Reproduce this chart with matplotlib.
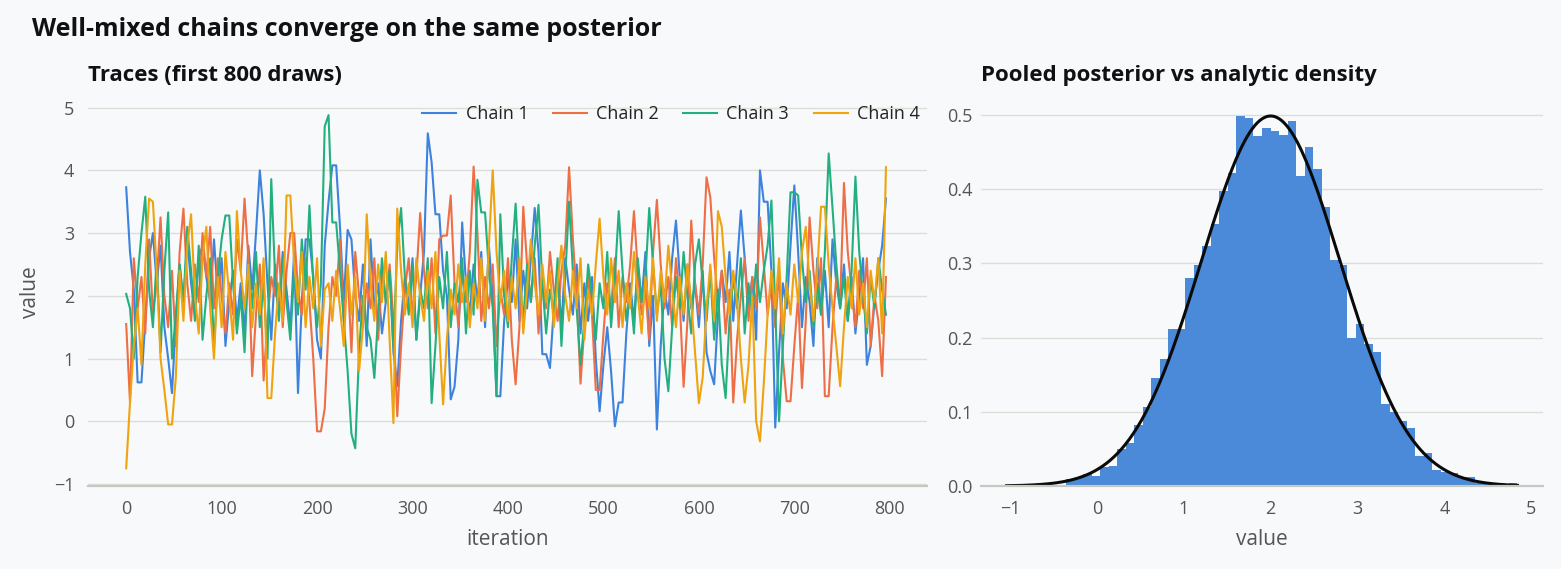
import numpy as np
import matplotlib
matplotlib.use("Agg")
import matplotlib.pyplot as plt

# ---------------- data ----------------
TRACE_STEP = 4  # iterations per stored value
chain1 = [3.73, 2.7, 2.1, 0.62, 0.62, 1.6, 2.6, 3.0, 2.2, 2.8,
          1.5, 1.0, 0.45, 1.6, 2.5, 1.9, 2.9, 2.2, 1.7, 2.6,
          2.8, 2.3, 1.9, 2.9, 2.0, 2.6, 1.2, 1.9, 2.4, 1.6,
          2.2, 1.4, 2.8, 2.1, 3.0, 4.0, 3.3, 2.2, 1.3, 2.5,
          1.8, 2.7, 2.1, 1.5, 2.7, 0.45, 1.9, 2.9, 2.9, 2.3,
          1.3, 1.0, 2.8, 3.5, 4.08, 4.08, 3.1, 1.9, 3.05, 2.9,
          2.0, 1.6, 2.5, 1.2, 2.9, 1.8, 2.2, 1.4, 1.9, 2.4,
          1.1, 0.56, 1.6, 2.3, 1.8, 2.6, 1.3, 2.0, 2.7, 4.59,
          4.13, 3.3, 3.3, 2.4, 2.0, 0.35, 0.55, 1.3, 3.17, 2.2,
          1.7, 2.5, 1.9, 2.7, 1.5, 2.8, 2.0, 0.4, 0.4, 1.6,
          2.3, 1.9, 2.9, 1.6, 2.4, 1.8, 2.6, 3.4, 2.7, 1.07,
          1.07, 0.85, 1.8, 2.4, 1.5, 2.6, 2.1, 1.7, 2.5, 1.4,
          2.2, 1.6, 2.3, 1.0, 0.16, 0.9, 1.5, 0.8, -0.08, 0.3,
          0.3, 1.4, 2.2, 1.6, 2.5, 1.9, 2.7, 1.2, 2.0, -0.13,
          1.2, 2.1, 1.7, 2.6, 3.2, 2.3, 1.6, 2.5, 1.8, 2.2,
          1.5, 2.4, 1.1, 0.8, 0.59, 1.7, 2.4, 1.9, 2.7, 1.6,
          2.5, 3.36, 2.6, 1.8, 2.3, 1.3, 4.0, 3.5, 3.5, 2.4,
          -0.1, 1.1, 2.2, 1.8, 2.8, 3.76, 2.7, 1.5, 2.3, 1.9,
          1.2, 2.6, 1.7, 2.4, 1.5, 2.9, 2.2, 1.8, 2.5, 1.6,
          2.3, 1.4, 2.0, 2.6, 0.9, 1.2, 1.9, 2.4, 2.8, 3.55]
chain2 = [1.55, 0.3, 2.6, 1.8, 2.3, 1.4, 2.9, 1.7, 2.2, 3.25,
          2.0, 1.5, 2.4, 1.2, 2.7, 3.39, 2.2, 1.6, 2.5, 1.9,
          3.0, 2.3, 3.1, 1.8, 2.6, 2.0, 1.4, 2.2, 1.7, 2.9,
          2.4, 3.55, 2.6, 0.72, 1.7, 2.5, 0.65, 1.6, 2.3, 2.0,
          2.8, 1.5, 2.4, 3.0, 3.0, 2.1, 1.7, 2.6, 1.9, 1.0,
          -0.16, -0.16, 0.2, 1.5, 2.3, 2.0, 2.9, 1.6, 2.4, 1.1,
          2.7, 2.0, 1.5, 2.2, 1.8, 2.6, 1.3, 2.4, 1.9, 2.5,
          1.6, 0.08, 1.2, 2.1, 2.6, 1.7, 2.3, 3.32, 2.4, 1.8,
          2.6, 1.4, 2.9, 2.96, 2.96, 3.6, 2.2, 1.5, 2.4, 1.9,
          2.7, 4.06, 3.0, 1.6, 2.3, 1.8, 2.5, 1.2, 2.1, 1.7,
          2.6, 1.3, 0.59, 1.5, 3.42, 2.5, 1.9, 2.6, 1.4, 2.2,
          1.8, 2.7, 2.1, 1.6, 2.4, 2.8, 4.05, 2.9, 2.0, 0.6,
          1.5, 2.3, 1.7, 0.5, 0.5, 1.4, 2.2, 1.8, 2.6, 1.5,
          2.3, 1.9, 2.5, 3.35, 2.4, 1.7, 2.1, 1.3, 2.7, 3.53,
          2.5, 1.8, 2.3, 1.5, 2.6, 1.9, 0.55, 1.6, 3.2, 2.2,
          1.7, 2.5, 3.89, 3.57, 2.6, 1.9, 2.4, 1.4, 2.1, 0.3,
          1.3, 2.0, 2.6, 1.6, 2.3, 1.8, 3.25, 2.5, 1.7, 2.2,
          1.5, 2.4, 1.0, 0.32, 0.32, 1.2, 2.0, 0.53, 1.6, 3.25,
          2.4, 1.8, 2.6, 0.4, 0.4, 1.5, 2.3, 1.9, 3.8, 2.7,
          2.1, 1.5, 2.4, 1.8, 2.6, 1.2, 2.0, 1.6, 0.72, 2.3]
chain3 = [2.03, 1.8, 1.0, 2.3, 3.0, 3.58, 2.1, 1.5, 2.6, 1.1,
          2.4, 3.33, 1.0, 1.7, 2.5, 1.9, 3.1, 2.4, 1.6, 2.8,
          1.3, 2.0, 2.6, 1.2, 2.3, 2.9, 3.28, 3.28, 2.2, 1.4,
          2.0, 1.1, 2.5, 1.8, 2.7, 1.5, 2.2, 1.0, 3.86, 2.3,
          1.6, 2.6, 1.9, 1.3, 2.4, 1.7, 2.9, 2.1, 3.44, 2.2,
          1.5, 2.2, 4.7, 4.88, 3.17, 3.17, 2.4, 1.6, 0.8, -0.2,
          -0.43, 1.1, 2.0, 1.5, 1.3, 0.69, 1.7, 2.6, 1.9, 2.4,
          1.2, 2.8, 3.4, 2.3, 1.7, 2.5, 1.3, 2.1, 1.8, 2.6,
          0.29, 1.2, 2.3, 1.8, 2.7, 1.5, 2.2, 1.9, 2.6, 1.4,
          2.4, 1.7, 3.85, 3.33, 3.33, 2.4, 1.8, 0.4, 3.3, 2.0,
          1.5, 2.6, 3.47, 2.3, 1.6, 2.5, 1.9, 2.8, 3.45, 2.2,
          1.4, 2.1, 1.7, 2.6, 1.2, 2.3, 3.5, 2.4, 1.8, 0.9,
          1.6, 2.5, 2.0, 1.3, 2.2, 1.8, 2.7, 1.5, 2.3, 3.35,
          2.4, 1.6, 2.1, 1.4, 2.6, 1.9, 2.3, 3.4, 2.5, 1.7,
          2.2, 1.0, 0.48, 1.5, 2.3, 1.8, 2.7, 2.0, 1.4, 2.5,
          2.9, 2.2, 1.6, 2.4, 1.3, 2.1, 0.9, 0.37, 1.6, 2.3,
          1.8, 2.6, 1.4, 2.2, 1.7, 2.5, 1.9, 2.4, 2.8, 3.52,
          1.8, 0.0, 1.2, 2.3, 3.65, 3.65, 3.6, 2.6, 1.9, 2.4,
          1.5, 2.2, 1.7, 2.7, 4.27, 3.4, 2.5, 1.8, 2.3, 1.6,
          2.4, 3.9, 2.7, 2.0, 1.4, 2.3, 1.8, 2.6, 2.1, 1.7]
chain4 = [-0.75, 0.3, 1.2, 1.8, 0.9, 2.5, 3.55, 3.5, 2.4, 1.0,
          0.5, -0.05, -0.05, 0.7, 2.4, 1.6, 2.8, 3.3, 2.0, 1.4,
          2.6, 3.1, 1.8, 1.0, 2.3, 1.5, 2.7, 2.0, 1.3, 3.35,
          2.4, 1.8, 2.5, 1.5, 2.2, 1.7, 2.6, 0.37, 0.37, 1.4,
          2.2, 1.6, 3.6, 3.6, 2.5, 1.9, 2.7, 1.5, 2.3, 1.8,
          2.6, 1.2, 2.1, 2.2, 1.6, 2.4, 1.8, 1.2, 2.5, 1.7,
          2.3, 0.8, 1.5, 3.3, 2.2, 1.6, 2.5, 1.9, 2.7, 1.3,
          -0.03, 3.39, 2.4, 1.7, 2.2, 1.5, 2.6, 2.0, 1.6, 2.4,
          1.8, 2.7, 1.4, 0.27, 1.3, 2.1, 1.7, 2.5, 1.9, 2.3,
          1.5, 2.2, 1.8, 2.6, 1.6, 2.8, 4.0, 2.7, 1.9, 2.4,
          1.6, 2.3, 1.8, 2.6, 1.4, 2.1, 2.9, 2.2, 1.7, 2.5,
          1.9, 2.4, 1.5, 2.2, 2.8, 2.0, 1.6, 2.4, 1.8, 2.6,
          1.3, 2.1, 1.7, 2.5, 3.23, 2.3, 1.7, 2.6, 1.9, 2.4,
          1.5, 2.2, 1.8, 2.7, 2.0, 1.4, 2.3, 1.8, 2.6, 1.6,
          2.4, 1.9, 2.8, 2.1, 1.5, 2.3, 1.7, 2.5, 1.9, 1.1,
          0.29, 0.7, 1.8, 2.5, 1.6, 3.35, 3.1, 2.3, 1.7, 2.4,
          1.9, 1.0, 0.3, 0.9, 2.0, 0.0, -0.32, 0.6, 1.7, 2.4,
          1.8, 2.6, 1.4, 2.2, 1.7, 2.5, 1.9, 2.7, 3.1, 2.2,
          1.6, 2.4, 3.42, 3.42, 2.5, 1.8, 1.2, 0.56, 1.5, 2.3,
          1.8, 2.6, 1.7, 2.2, 1.5, 2.4, 1.9, 2.6, 1.4, 4.05]
chain_labels = ["Chain 1", "Chain 2", "Chain 3", "Chain 4"]

# pooled posterior histogram (density), 60 bins
hist_lo, hist_hi, n_bins = -1.04, 4.84, 60
hist_density = [0.0003, 0.0003, 0.0005, 0.0006, 0.0008, 0.001, 0.0015,
                0.010, 0.011, 0.0167, 0.014, 0.025, 0.027, 0.050, 0.058,
                0.082, 0.106, 0.146, 0.171, 0.211, 0.211, 0.280, 0.298,
                0.324, 0.353, 0.397, 0.422, 0.499, 0.496, 0.472, 0.482,
                0.478, 0.473, 0.492, 0.418, 0.457, 0.427, 0.376, 0.304,
                0.298, 0.199, 0.218, 0.191, 0.181, 0.111, 0.100, 0.087,
                0.078, 0.040, 0.045, 0.021, 0.019, 0.017, 0.012, 0.012,
                0.004, 0.003, 0.003, 0.002, 0.004]
MU, SIGMA = 2.0, 0.8  # analytic posterior

# ---------------- style ----------------
BG = "#f7f9fb"
GRID = "#deded8"
SPINE = "#c8c8c2"
TXT = "#555555"
colors = ["#3d82dc", "#ee6f45", "#23b07e", "#efa30e"]
FONT = ["Open Sans", "DejaVu Sans"]
plt.rcParams["font.family"] = FONT

fig = plt.figure(figsize=(15.61, 5.69), dpi=100, facecolor=BG)
ax1 = fig.add_axes([88/1561, 1-486/569, (927-88)/1561, (486-97.5)/569])
ax2 = fig.add_axes([981/1561, 1-486/569, (1543-981)/1561, (486-97.5)/569])

for ax in (ax1, ax2):
    ax.set_facecolor(BG)
    for s in ("top", "right", "left"):
        ax.spines[s].set_visible(False)
    ax.spines["bottom"].set_color(SPINE)
    ax.spines["bottom"].set_linewidth(1.6)
    ax.grid(axis="y", color=GRID, linewidth=1.0)
    ax.set_axisbelow(True)
    ax.tick_params(length=0, labelsize=13, colors=TXT)
    ax.tick_params(axis="x", pad=10)
ax1.tick_params(axis="y", pad=10)
ax2.tick_params(axis="y", pad=6)

# traces
iters = np.arange(0, len(chain1) * TRACE_STEP, TRACE_STEP)
for vals, c, lab in zip([chain1, chain2, chain3, chain4], colors, chain_labels):
    ax1.plot(iters, vals, color=c, linewidth=1.5, label=lab)
ax1.set_xlim(-40, 839)
ax1.set_yticks([-1, 0, 1, 2, 3, 4, 5])
ax1.set_xticks([0, 100, 200, 300, 400, 500, 600, 700, 800])
ax1.set_xlabel("iteration", fontsize=15, color=TXT, labelpad=8)
ax1.set_ylabel("value", fontsize=15, color=TXT, labelpad=9)
ax1.set_title("Traces (first 800 draws)", loc="left", fontsize=16,
              fontweight="bold", color="#111111", pad=12)
leg = ax1.legend(loc="upper right", ncol=4, frameon=False, fontsize=13,
                 handlelength=1.9, columnspacing=1.35, handletextpad=0.5,
                 bbox_to_anchor=(1.0, 0.999), borderaxespad=0.0)
for t in leg.get_texts():
    t.set_color("#222222")

# histogram + analytic density
edges_h = np.linspace(hist_lo, hist_hi, n_bins + 1)
ax2.stairs(hist_density, edges_h, fill=True, color="#4a8ad9", linewidth=0)
xs = np.linspace(hist_lo, hist_hi, 400)
pdf = np.exp(-0.5 * ((xs - MU) / SIGMA) ** 2) / (SIGMA * np.sqrt(2 * np.pi))
ax2.plot(xs, pdf, color="#0a0a0a", linewidth=2.2)
ax2.set_xlim(hist_lo - 0.05 * (hist_hi - hist_lo), hist_hi + 0.05 * (hist_hi - hist_lo))
ax2.set_ylim(0, pdf.max() * 1.05)
ax2.set_yticks([0.0, 0.1, 0.2, 0.3, 0.4, 0.5])
ax2.set_yticklabels(["0.0", "0.1", "0.2", "0.3", "0.4", "0.5"])
ax2.set_xticks([-1, 0, 1, 2, 3, 4, 5])
ax2.set_xlabel("value", fontsize=15, color=TXT, labelpad=8)
ax2.set_title("Pooled posterior vs analytic density", loc="left", fontsize=16,
              fontweight="bold", color="#111111", pad=12)

fig.text(32/1561, 1-30/569, "Well-mixed chains converge on the same posterior",
         fontsize=18, fontweight="bold", color="#111111", va="center", ha="left")

fig.savefig("out.png", dpi=100, facecolor=BG)
